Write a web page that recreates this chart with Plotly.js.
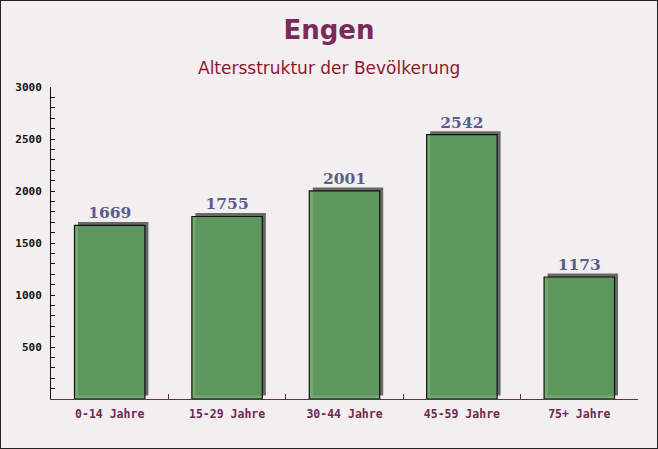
<!DOCTYPE html>
<html>
<head>
<meta charset="utf-8">
<script src="https://cdn.plot.ly/plotly-3.0.1.min.js"></script>
<style>
html,body{margin:0;padding:0;background:#f3eff1;}
#wrap{position:relative;width:658px;height:449px;}
#chart{width:658px;height:449px;}
#frame{position:absolute;left:0;top:0;width:658px;height:449px;box-sizing:border-box;border:1px solid #222;pointer-events:none;}
</style>
</head>
<body>
<div id="wrap"><div id="chart"></div><div id="frame"></div></div>
<script>
const categories = ["0-14 Jahre", "15-29 Jahre", "30-44 Jahre", "45-59 Jahre", "75+ Jahre"];
const values = [1669, 1755, 2001, 2542, 1173];
const yTickVals = [500, 1000, 1500, 2000, 2500, 3000];
const yTickText = ["500", "1000", "1500", "2000", "2500", "3000"];
const titleText = "Engen";
const subtitleText = "Altersstruktur der Bevölkerung";

const W = 658, H = 449;
const M = {l: 51, r: 19.5, t: 87, b: 50};
const plotW = W - M.l - M.r, plotH = H - M.t - M.b;
const yMax = 3000;
const shadowPx = 3.5;
const yShift = shadowPx * yMax / plotH;
const xShift = shadowPx * categories.length / plotW;

const shadow = {
  type: 'bar', x: categories, y: values, xaxis: 'x', yaxis: 'y',
  width: 0.6,
  marker: {color: 'rgba(80,80,80,0.85)', line: {width: 0}},
  hoverinfo: 'skip', showlegend: false
};
const main = {
  type: 'bar', x: categories, y: values, xaxis: 'x2', yaxis: 'y2',
  width: 0.6,
  marker: {color: 'rgba(92,158,92,0.86)', line: {color: '#111', width: 1.2}},
  text: values.map(String), textposition: 'outside', cliponaxis: false,
  textfont: {family: 'DejaVu Serif', size: 15.5, color: '#5a5e8c', weight: 'bold'},
  showlegend: false
};

const layout = {
  width: W, height: H,
  margin: M,
  paper_bgcolor: '#f3eff1', plot_bgcolor: 'rgba(0,0,0,0)',
  title: {
    text: '<b>' + titleText + '</b>',
    font: {family: 'DejaVu Sans', size: 26, color: '#7a2a56'},
    x: 0.5, xanchor: 'center', xref: 'container',
    y: 1 - 30 / H, yanchor: 'middle', yref: 'container'
  },
  annotations: [{
    text: subtitleText, showarrow: false,
    xref: 'paper', x: 0.5 - (M.l - M.r) / 2 / plotW, xanchor: 'center',
    yref: 'paper', y: 1 + (M.t - 68) / plotH, yanchor: 'middle',
    font: {family: 'DejaVu Sans', size: 17, color: '#8b1a2c'}
  }],
  xaxis: {
    type: 'category', range: [-0.5 - xShift, categories.length - 0.5 - xShift],
    visible: false, fixedrange: true
  },
  yaxis: {
    range: [-yShift, yMax - yShift], visible: false, fixedrange: true
  },
  xaxis2: {
    type: 'category', overlaying: 'x', range: [-0.5, categories.length - 0.5],
    showline: true, linecolor: '#6e2a4f', linewidth: 1,
    ticks: 'inside', ticklen: 5, tickcolor: '#6e2a4f', tickson: 'boundaries',
    tickfont: {family: 'DejaVu Sans Mono', size: 11.5, color: '#6e2a4f', weight: 'bold'},
    ticklabelstandoff: 4,
    showgrid: false, zeroline: false, fixedrange: true
  },
  yaxis2: {
    overlaying: 'y', range: [0, yMax],
    showline: true, linecolor: '#111', linewidth: 1,
    ticks: 'inside', ticklen: 4, tickcolor: '#111',
    tickvals: yTickVals, ticktext: yTickText,
    minor: {dtick: 100, ticks: 'inside', ticklen: 4, tickcolor: '#111', showgrid: false},
    tickfont: {family: 'DejaVu Sans Mono', size: 11, color: '#111', weight: 'bold'},
    ticklabelstandoff: 6,
    showgrid: false, zeroline: false, fixedrange: true
  },
  bargap: 0.4
};

Plotly.newPlot('chart', [shadow, main], layout, {displayModeBar: false, staticPlot: true});
</script>
</body>
</html>
